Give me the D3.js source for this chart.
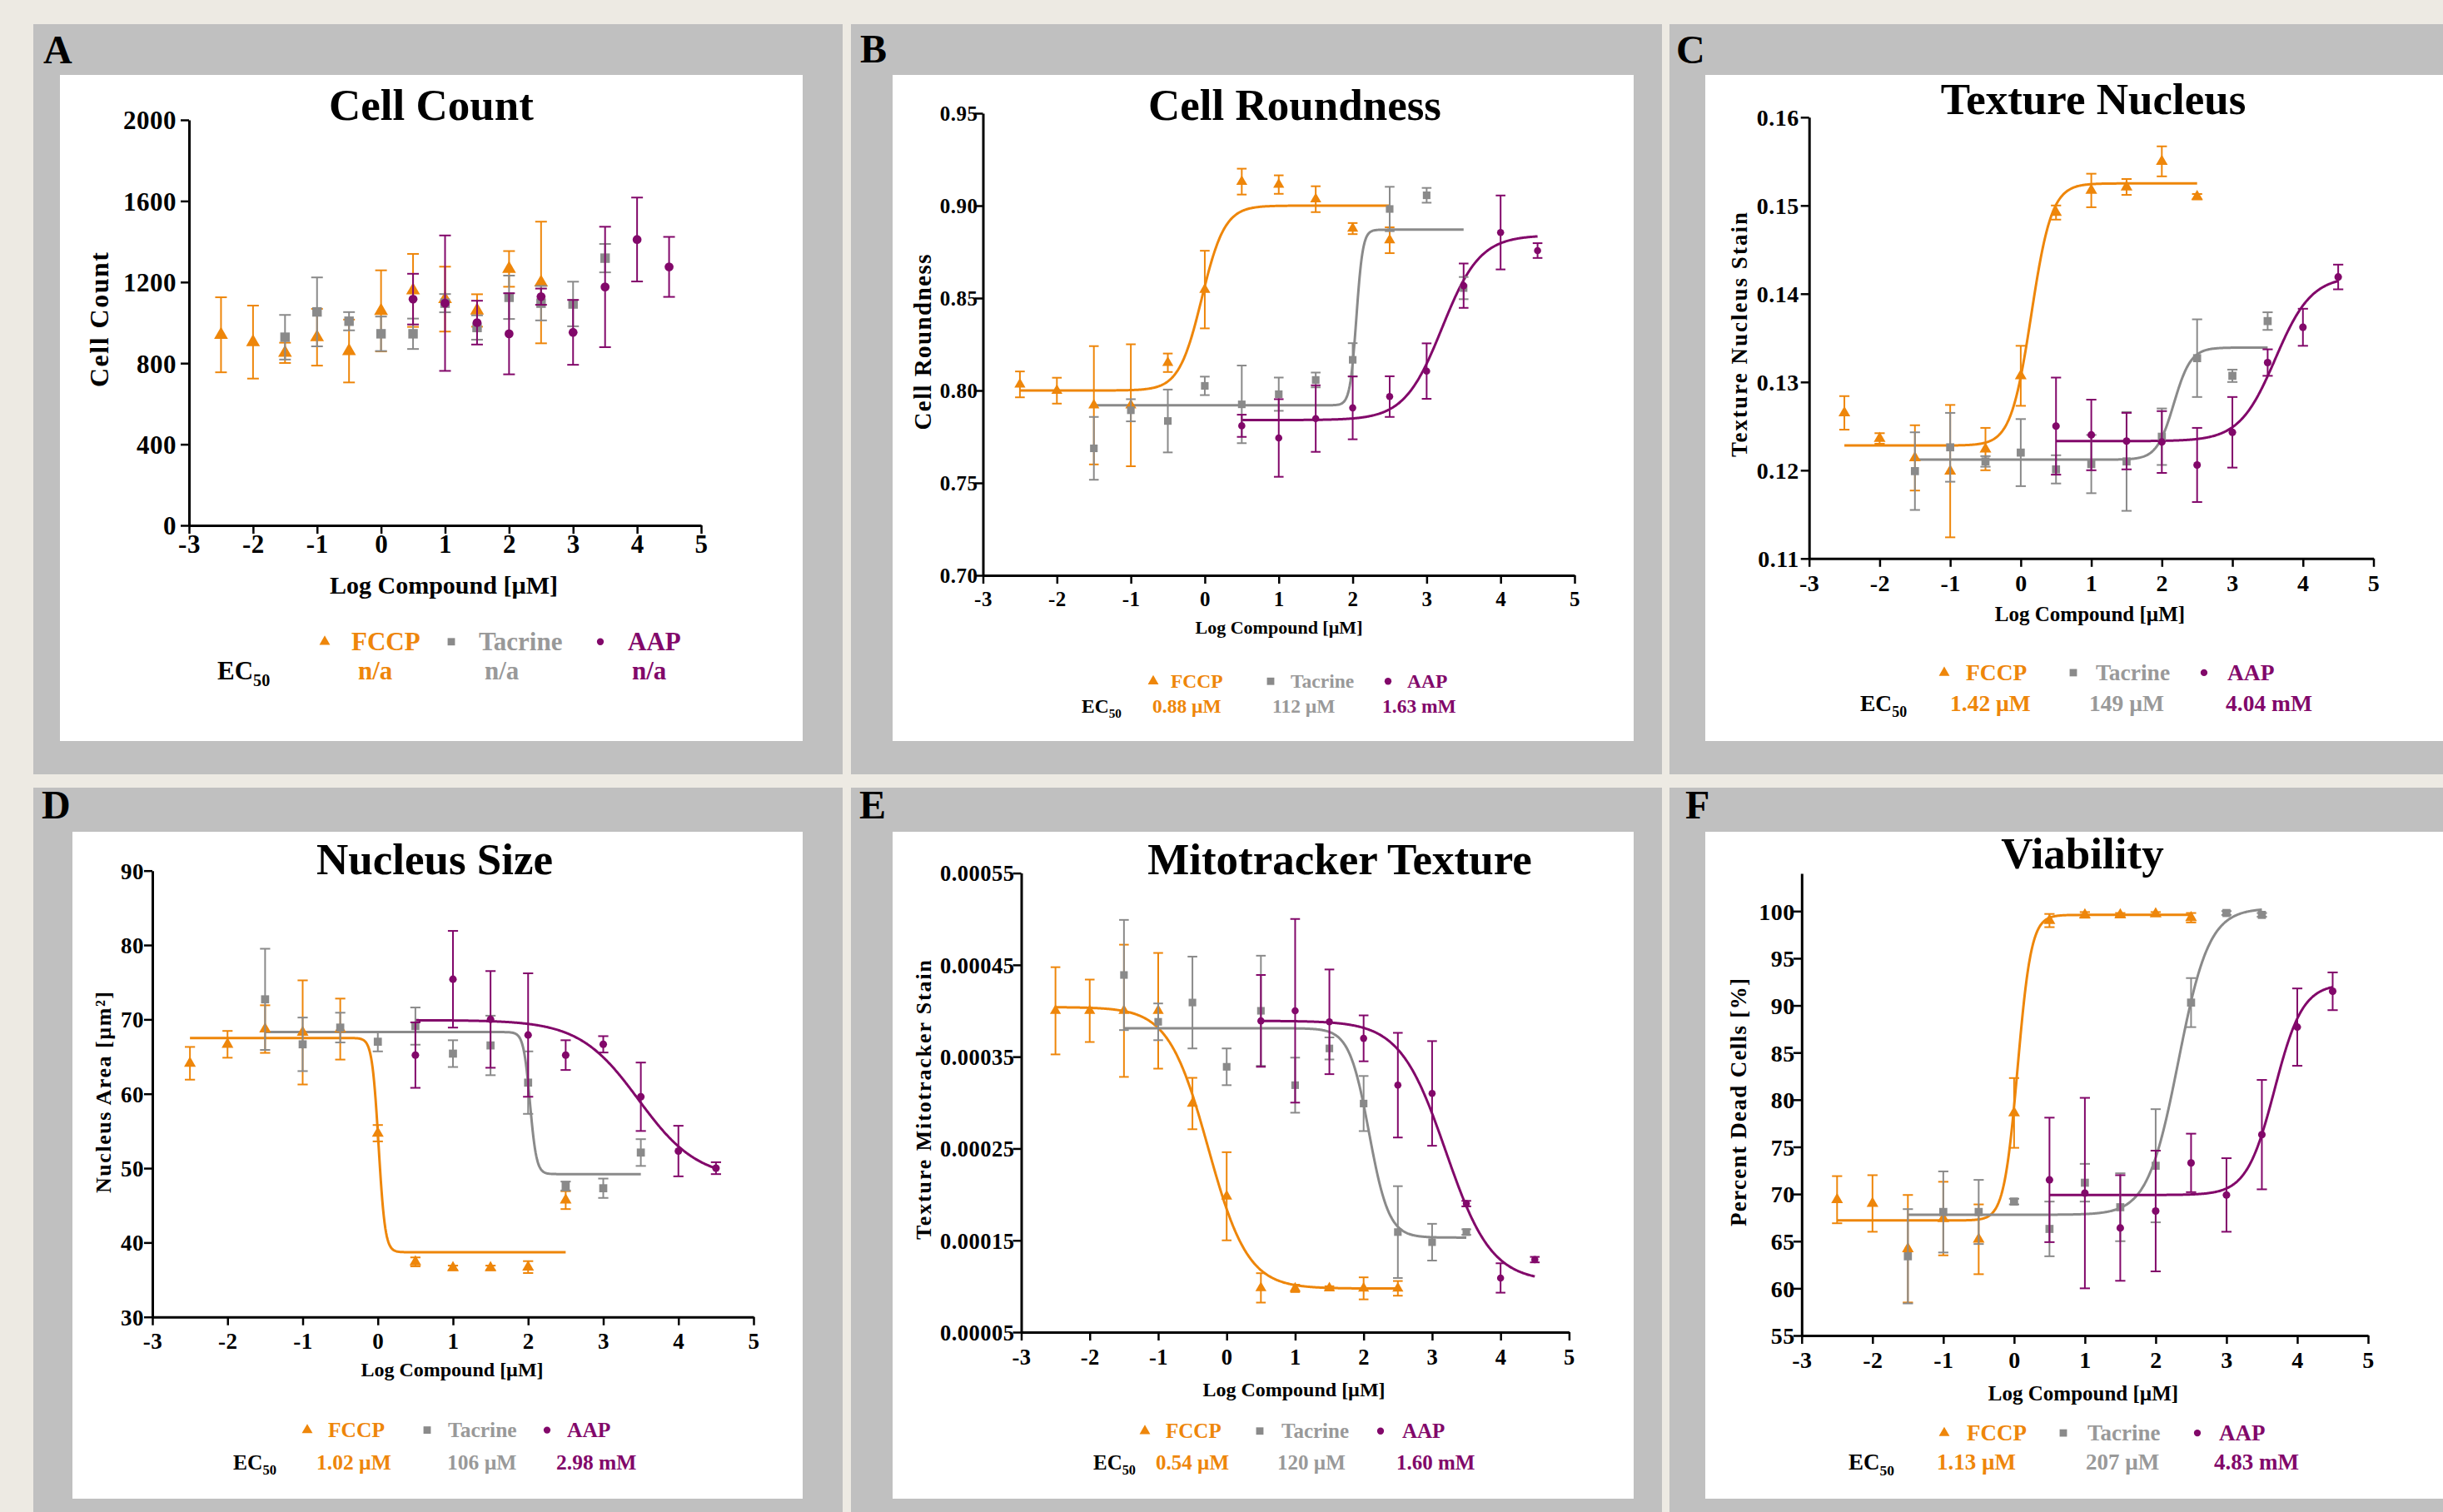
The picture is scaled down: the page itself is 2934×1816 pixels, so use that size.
<!DOCTYPE html>
<html>
<head>
<meta charset="utf-8">
<script src="https://cdn.jsdelivr.net/npm/d3@7"></script>
<style>
  body { margin: 0; background: #EDEAE3; }
  svg { display: block; }
</style>
</head>
<body>
<svg id="fig"></svg>
<script>
// doses (log µM) for each compound
var fccpDose = [-2.5, -2, -1.5, -1, -0.5, 0, 0.5, 1, 1.5, 2, 2.5];
var tacrineDose = [-1.5, -1, -0.5, 0, 0.5, 1, 1.5, 2, 2.5, 3, 3.5];
var aapDose = [0.5, 1, 1.5, 2, 2.5, 3, 3.5, 4, 4.5];
var compounds = ['FCCP', 'Tacrine', 'AAP'];
var xTicks = [-3, -2, -1, 0, 1, 2, 3, 4, 5];

// A - cell count
var countFCCP = [940, 904, 851, 928, 860, 1058, 1159, 1116, 1060, 1265, 1198];
var countFCCPErr = [185, 180, 50, 140, 155, 200, 180, 160, 80, 88, 300];
var countTacrine = [928, 1053, 1007, 945, 945, 1096, 976, 1125, 1096, 1092, 1318];
var countTacrineErr = [110, 170, 45, 85, 75, 45, 60, 107, 85, 110, 70];
var countAAP = [1116, 1096, 1000, 945, 1128, 952, 1176, 1410, 1275];
var countAAPErr = [125, 334, 108, 200, 40, 160, 297, 207, 148];
var countTicks = [0, 400, 800, 1200, 1600, 2000];
var ec50Count = ['n/a', 'n/a', 'n/a'];

// B - cell roundness
var roundFCCP = [0.8033, 0.7999, 0.792, 0.792, 0.815, 0.8546, 0.913, 0.9114, 0.9035, 0.8876, 0.8813];
var roundFCCPErr = [0.007, 0.007, 0.032, 0.033, 0.005, 0.021, 0.007, 0.005, 0.007, 0.003, 0.007];
var roundTacrine = [0.7687, 0.7893, 0.7835, 0.8025, 0.7925, 0.798, 0.8057, 0.8166, 0.8982, 0.9056, 0.8554];
var roundTacrineErr = [0.017, 0.006, 0.017, 0.005, 0.021, 0.009, 0.004, 0.009, 0.012, 0.004, 0.006];
var roundAAP = [0.7809, 0.7743, 0.7848, 0.7906, 0.7967, 0.8105, 0.8567, 0.8855, 0.8757];
var roundAAPErr = [0.006, 0.021, 0.018, 0.017, 0.011, 0.015, 0.012, 0.02, 0.004];
var roundTicks = [0.70, 0.75, 0.80, 0.85, 0.90, 0.95];
// fit: [left plateau, right plateau, logEC50, hill]
var roundFit = [[0.800, 0.900, -0.04, 2.8], [0.792, 0.887, 2.05, 10], [0.784, 0.884, 3.21, 1.7]];
var ec50Round = ['0.88 µM', '112 µM', '1.63 mM'];

// C - texture nucleus
var texFCCP = [0.1265, 0.1236, 0.1214, 0.1199, 0.1224, 0.1307, 0.1492, 0.1517, 0.1521, 0.155, 0.151];
var texFCCPErr = [0.0019, 0.0006, 0.0037, 0.0075, 0.0024, 0.0034, 0.0008, 0.0019, 0.0009, 0.0017, 0.0003];
var texTacrine = [0.1199, 0.1226, 0.121, 0.122, 0.1201, 0.1207, 0.121, 0.1238, 0.1327, 0.1307, 0.1369];
var texTacrineErr = [0.0044, 0.0039, 0.0006, 0.0038, 0.0016, 0.0033, 0.0056, 0.0032, 0.0044, 0.0007, 0.001];
var texAAP = [0.125, 0.124, 0.1233, 0.1232, 0.1206, 0.1243, 0.1322, 0.1362, 0.1419];
var texAAPErr = [0.0055, 0.004, 0.0032, 0.0035, 0.0042, 0.004, 0.0015, 0.0021, 0.0014];
var texTicks = [0.11, 0.12, 0.13, 0.14, 0.15, 0.16];
var texFit = [[0.1228, 0.1525, 0.15, 3], [0.1212, 0.1339, 2.17, 3.6], [0.1233, 0.142, 3.61, 1.7]];
var ec50Tex = ['1.42 µM', '149 µM', '4.04 mM'];

// D - nucleus size
var sizeFCCP = [64.1, 66.65, 68.7, 68.25, 68.7, 54.7, 37.4, 36.6, 36.6, 36.7, 45.7];
var sizeFCCPErr = [2.2, 1.8, 3.2, 7, 4.1, 1.1, 0.6, 0.3, 0.3, 0.8, 1.2];
var sizeTacrine = [72.7, 66.65, 68.9, 67, 69.1, 65.4, 66.5, 61.5, 47.6, 47.3, 52.1];
var sizeTacrineErr = [6.8, 3.6, 2, 1.3, 2.5, 1.8, 4, 4.2, 0.6, 1.3, 1.8];
var sizeAAP = [65.2, 75.4, 70, 67.9, 65.2, 66.65, 59.6, 52.3, 50];
var sizeAAPErr = [4.4, 6.5, 6.5, 8.3, 2, 1.1, 4.6, 3.4, 0.8];
var sizeTicks = [30, 40, 50, 60, 70, 80, 90];
var sizeFit = [[67.5, 38.7, 0.01, 10], [68.3, 49.2, 2.025, 10], [69.9, 48.5, 3.47, 1.1]];
var ec50Size = ['1.02 µM', '106 µM', '2.98 mM'];

// E - mitotracker texture
var mitoFCCP = [0.000400, 0.000400, 0.000400, 0.000400, 0.000299, 0.000198, 0.0000982, 0.0000977, 0.000098, 0.0000977, 0.0000977];
var mitoFCCPErr = [0.0000475, 0.000034, 0.000072, 0.000063, 0.000028, 0.000048, 0.000016, 0.000004, 0.000002, 0.000012, 0.000008];
var mitoTacrine = [0.000439, 0.000388, 0.000409, 0.000339, 0.0004, 0.000319, 0.000359, 0.000299, 0.000159, 0.000148, 0.000159];
var mitoTacrineErr = [0.00006, 0.00002, 0.00005, 0.00002, 0.00006, 0.00003, 0.000012, 0.00003, 0.00005, 0.00002, 0.000003];
var mitoAAP = [0.000389, 0.0004, 0.000388, 0.00037, 0.000319, 0.00031, 0.00019, 0.000109, 0.000129];
var mitoAAPErr = [0.00005, 0.0001, 0.000057, 0.000025, 0.000057, 0.000057, 0.000003, 0.000016, 0.000003];
var mitoTicks = [0.00005, 0.00015, 0.00025, 0.00035, 0.00045, 0.00055];
var mitoFit = [[0.000404, 0.0000975, -0.27, 1.5], [0.000381, 0.000153, 2.08, 3], [0.000389, 0.000105, 3.20, 1.3]];
var ec50Mito = ['0.54 µM', '120 µM', '1.60 mM'];

// F - viability
var viaFCCP = [69.4, 69, 64.2, 67.4, 65.2, 78.6, 99, 99.6, 99.6, 99.7, 99.3];
var viaFCCPErr = [2.5, 3, 5.7, 3.9, 3.7, 3.7, 0.7, 0.3, 0.2, 0.2, 0.5];
var viaTacrine = [63.4, 68.1, 68.1, 69.2, 66.3, 71.2, 68.6, 73, 90.3, 99.8, 99.6];
var viaTacrineErr = [5, 4.3, 3.4, 0.3, 2.9, 2, 3.6, 6, 2.6, 0.2, 0.2];
var viaAAP = [71.5, 70.1, 66.4, 68.2, 73.3, 69.9, 76.3, 87.7, 91.5];
var viaAAPErr = [6.6, 10.1, 5.6, 6.4, 3.1, 3.9, 5.8, 4.1, 2];
var viaTicks = [55, 60, 65, 70, 75, 80, 85, 90, 95, 100];
var viaFit = [[67.2, 99.6, 0.05, 4.5], [67.8, 100.3, 2.32, 2], [69.9, 92.3, 3.68, 2.2]];
var ec50Via = ['1.13 µM', '207 µM', '4.83 mM'];

var colors = ['#EE860A', '#8A8A8A', '#82086A'];
var textColors = ['#EE860A', '#999999', '#82086A'];
var symbols = [d3.symbolTriangle, d3.symbolSquare, d3.symbolCircle];
var doses = [fccpDose, tacrineDose, aapDose];
var serif = '"Liberation Serif", "Times New Roman", "DejaVu Serif", serif';

var svg = d3.select('#fig')
    .attr('width', 2934)
    .attr('height', 1816);

svg.append('rect')
    .attr('width', 2934)
    .attr('height', 1816)
    .attr('fill', '#EDEAE3');

var panels = [
  {letter: 'A', title: 'Cell Count', gray: [40, 29, 1012, 930], white: [72, 90, 964, 890], lx: 52, ly: 76,
   xr: [227, 842], yr: [631, 144], dom: [0, 2000], ticks: countTicks, fmt: d3.format('d'), tf: 31, gap: 15, xtb: 664,
   tx: 518, ty: 144, ylab: 'Cell Count', ycx: 119, ycy: 384, ylen: 162, yfs: 32, xlx: 533, xly: 713, xfs: 30,
   leg: {fs: 31, y1: 781, y2: 816, mark: [390, 542, 721], name: [422, 575, 754], val: [430, 582, 759], ec: 261},
   ms: 1.0, ec50: ec50Count, fit: null,
   means: [countFCCP, countTacrine, countAAP], errs: [countFCCPErr, countTacrineErr, countAAPErr]},
  {letter: 'B', title: 'Cell Roundness', gray: [1022, 29, 1996, 930], white: [1072, 90, 1962, 890], lx: 1033, ly: 75,
   xr: [1180.5, 1891], yr: [691, 136], dom: [0.70, 0.95], ticks: roundTicks, fmt: d3.format('.2f'), tf: 25, gap: 6, xtb: 728,
   tx: 1555, ty: 144, ylab: 'Cell Roundness', ycx: 1108, ycy: 411, ylen: 211, yfs: 29, xlx: 1536, xly: 761, xfs: 22,
   leg: {fs: 23.5, y1: 826, y2: 856, mark: [1385, 1526, 1667], name: [1406, 1550, 1690], val: [1384, 1528, 1660], ec: 1299},
   ms: 0.8, ec50: ec50Round, fit: roundFit,
   means: [roundFCCP, roundTacrine, roundAAP], errs: [roundFCCPErr, roundTacrineErr, roundAAPErr]},
  {letter: 'C', title: 'Texture Nucleus', gray: [2005, 29, 2934, 930], white: [2048, 90, 2934, 890], lx: 2013, ly: 76,
   xr: [2172.7, 2850.5], yr: [670.8, 140.8], dom: [0.11, 0.16], ticks: texTicks, fmt: d3.format('.2f'), tf: 28, gap: 12, xtb: 710,
   tx: 2514, ty: 137, ylab: 'Texture Nucleus Stain', ycx: 2089, ycy: 402, ylen: 294, yfs: 27, xlx: 2510, xly: 746, xfs: 25,
   leg: {fs: 27.5, y1: 817, y2: 854, mark: [2335, 2490, 2647], name: [2361, 2517, 2675], val: [2342, 2509, 2673], ec: 2234},
   ms: 0.85, ec50: ec50Tex, fit: texFit,
   means: [texFCCP, texTacrine, texAAP], errs: [texFCCPErr, texTacrineErr, texAAPErr]},
  {letter: 'D', title: 'Nucleus Size', gray: [40, 946, 1012, 1816], white: [87, 999, 964, 1800], lx: 50, ly: 983,
   xr: [183, 905], yr: [1581.7, 1045.7], dom: [30, 90], ticks: sizeTicks, fmt: d3.format('d'), tf: 27, gap: 10, xtb: 1620,
   tx: 522, ty: 1050, ylab: 'Nucleus Area [µm²]', ycx: 124, ycy: 1312, ylen: 242, yfs: 26, xlx: 543, xly: 1653, xfs: 24,
   leg: {fs: 25.5, y1: 1726, y2: 1765, mark: [369, 513, 657], name: [394, 538, 681], val: [380, 537, 668], ec: 280},
   ms: 0.85, ec50: ec50Size, fit: sizeFit,
   means: [sizeFCCP, sizeTacrine, sizeAAP], errs: [sizeFCCPErr, sizeTacrineErr, sizeAAPErr]},
  {letter: 'E', title: 'Mitotracker Texture', gray: [1022, 946, 1996, 1816], white: [1072, 999, 1962, 1800], lx: 1032, ly: 983,
   xr: [1226.5, 1884.4], yr: [1600, 1048.6], dom: [0.00005, 0.00055], ticks: mitoTicks, fmt: d3.format('.5f'), tf: 26.5, gap: 8, xtb: 1639,
   tx: 1609, ty: 1050, ylab: 'Texture Mitotracker Stain', ycx: 1109, ycy: 1321, ylen: 336, yfs: 26, xlx: 1554, xly: 1677, xfs: 24,
   leg: {fs: 25, y1: 1727, y2: 1765, mark: [1375, 1513, 1658], name: [1400, 1539, 1684], val: [1388, 1534, 1677], ec: 1313},
   ms: 0.8, ec50: ec50Mito, fit: mitoFit,
   means: [mitoFCCP, mitoTacrine, mitoAAP], errs: [mitoFCCPErr, mitoTacrineErr, mitoAAPErr]},
  {letter: 'F', title: 'Viability', gray: [2005, 946, 2934, 1816], white: [2048, 999, 2934, 1800], lx: 2024, ly: 983,
   xr: [2163.8, 2844], yr: [1604, 1049], dom: [55, 104], ticks: viaTicks, fmt: d3.format('d'), tf: 28, gap: 8, xtb: 1643,
   tx: 2501, ty: 1043, ylab: 'Percent Dead Cells [%]', ycx: 2088, ycy: 1324, ylen: 298, yfs: 27, xlx: 2502, xly: 1682, xfs: 25,
   leg: {fs: 27, y1: 1730, y2: 1765, mark: [2335, 2478, 2639], name: [2362, 2507, 2665], val: [2326, 2505, 2659], ec: 2220},
   ms: 0.85, ec50: ec50Via, fit: viaFit,
   means: [viaFCCP, viaTacrine, viaAAP], errs: [viaFCCPErr, viaTacrineErr, viaAAPErr]}
];

// four parameter logistic, as fitted in the original
function logistic(p, v) {
  return p[0] + (p[1] - p[0]) / (1 + Math.pow(10, (p[2] - v) * p[3]));
}

function drawPanel(p) {
  var g = svg.append('g')
      .attr('font-family', serif)
      .attr('font-weight', 'bold');

  g.append('rect')
      .attr('x', p.gray[0]).attr('y', p.gray[1])
      .attr('width', p.gray[2] - p.gray[0]).attr('height', p.gray[3] - p.gray[1])
      .attr('fill', '#C0C0C0');
  g.append('rect')
      .attr('x', p.white[0]).attr('y', p.white[1])
      .attr('width', p.white[2] - p.white[0]).attr('height', p.white[3] - p.white[1])
      .attr('fill', '#FFFFFF');

  g.append('text')
      .attr('x', p.lx).attr('y', p.ly)
      .attr('font-size', '48px')
      .text(p.letter);

  g.append('text')
      .attr('x', p.tx).attr('y', p.ty)
      .attr('text-anchor', 'middle')
      .attr('font-size', '53px')
      .text(p.title);

  var x = d3.scaleLinear().domain([-3, 5]).range(p.xr);
  var y = d3.scaleLinear().domain(p.dom).range(p.yr);

  // axes
  var xAxis = g.append('g')
      .attr('transform', 'translate(0,' + p.yr[0] + ')')
      .call(d3.axisBottom(x).tickValues(xTicks).tickSize(10).tickSizeOuter(0).tickFormat(function(d) { return String(d); }));
  var yAxis = g.append('g')
      .attr('transform', 'translate(' + p.xr[0] + ',0)')
      .call(d3.axisLeft(y).tickValues(p.ticks).tickSize(10).tickSizeOuter(0).tickFormat(p.fmt));

  [xAxis, yAxis].forEach(function(a) {
    a.attr('font-family', serif).attr('font-weight', 'bold').attr('font-size', p.tf + 'px');
    a.select('.domain').attr('stroke', '#000').attr('stroke-width', 3);
    a.selectAll('.tick line').attr('stroke', '#000').attr('stroke-width', 2.5);
    a.selectAll('.tick text').attr('fill', '#000').attr('letter-spacing', '0.5px');
  });
  xAxis.selectAll('.tick text').attr('y', p.xtb - p.yr[0]).attr('dy', null);
  yAxis.selectAll('.tick text').attr('x', -p.gap).attr('dy', '0.35em');

  // fitted curves
  if (p.fit) {
    p.fit.forEach(function(f, i) {
      var ds = doses[i];
      var pts = d3.range(ds[0], ds[ds.length - 1] + 0.001, 0.01).map(function(v) { return [v, logistic(f, v)]; });
      g.append('path')
          .datum(pts)
          .attr('fill', 'none')
          .attr('stroke', colors[i])
          .attr('stroke-width', 3)
          .attr('d', d3.line().x(function(d) { return x(d[0]); }).y(function(d) { return y(d[1]); }));
    });
  }

  var cap = 6 * p.ms + 1;
  var sizes = [120, 130, 90];
  for (var i = 0; i < 3; i++) {
    var pts = doses[i].map(function(d, j) { return {x: d, m: p.means[i][j], e: p.errs[i][j]}; });
    var eg = g.append('g').attr('stroke', colors[i]).attr('stroke-width', 2);
    eg.selectAll('line.v').data(pts).enter().append('line')
        .attr('x1', function(d) { return x(d.x); }).attr('x2', function(d) { return x(d.x); })
        .attr('y1', function(d) { return y(d.m + d.e); }).attr('y2', function(d) { return y(d.m - d.e); });
    eg.selectAll('line.t').data(pts).enter().append('line')
        .attr('x1', function(d) { return x(d.x) - cap; }).attr('x2', function(d) { return x(d.x) + cap; })
        .attr('y1', function(d) { return y(d.m + d.e); }).attr('y2', function(d) { return y(d.m + d.e); });
    eg.selectAll('line.b').data(pts).enter().append('line')
        .attr('x1', function(d) { return x(d.x) - cap; }).attr('x2', function(d) { return x(d.x) + cap; })
        .attr('y1', function(d) { return y(d.m - d.e); }).attr('y2', function(d) { return y(d.m - d.e); });
    g.append('g').selectAll('path').data(pts).enter().append('path')
        .attr('transform', function(d) { return 'translate(' + x(d.x) + ',' + y(d.m) + ')'; })
        .attr('d', d3.symbol().type(symbols[i]).size(sizes[i] * p.ms * p.ms))
        .attr('fill', colors[i]);
  }

  // axis titles
  g.append('text')
      .attr('transform', 'translate(' + p.ycx + ',' + p.ycy + ') rotate(-90)')
      .attr('y', p.yfs * 0.33)
      .attr('text-anchor', 'middle')
      .attr('font-size', p.yfs + 'px')
      .attr('textLength', p.ylen)
      .attr('lengthAdjust', 'spacing')
      .text(p.ylab);
  g.append('text')
      .attr('x', p.xlx).attr('y', p.xly)
      .attr('text-anchor', 'middle')
      .attr('font-size', p.xfs + 'px')
      .text('Log Compound [µM]');

  // legend and EC50 values
  var L = p.leg;
  for (var k = 0; k < 3; k++) {
    g.append('path')
        .attr('transform', 'translate(' + L.mark[k] + ',' + (L.y1 - L.fs * 0.33) + ')')
        .attr('d', d3.symbol().type(symbols[k]).size(sizes[k] * 0.6))
        .attr('fill', colors[k]);
    g.append('text')
        .attr('x', L.name[k]).attr('y', L.y1)
        .attr('font-size', L.fs + 'px')
        .attr('fill', textColors[k])
        .text(compounds[k]);
    g.append('text')
        .attr('x', L.val[k]).attr('y', L.y2)
        .attr('font-size', L.fs + 'px')
        .attr('fill', textColors[k])
        .text(p.ec50[k]);
  }
  var ec = g.append('text')
      .attr('x', L.ec).attr('y', L.y2)
      .attr('font-size', L.fs + 'px')
      .attr('fill', '#000');
  ec.append('tspan').text('EC');
  ec.append('tspan')
      .attr('font-size', (L.fs * 0.65) + 'px')
      .attr('dy', L.fs * 0.25)
      .text('50');
}

panels.forEach(drawPanel);
</script>
</body>
</html>
